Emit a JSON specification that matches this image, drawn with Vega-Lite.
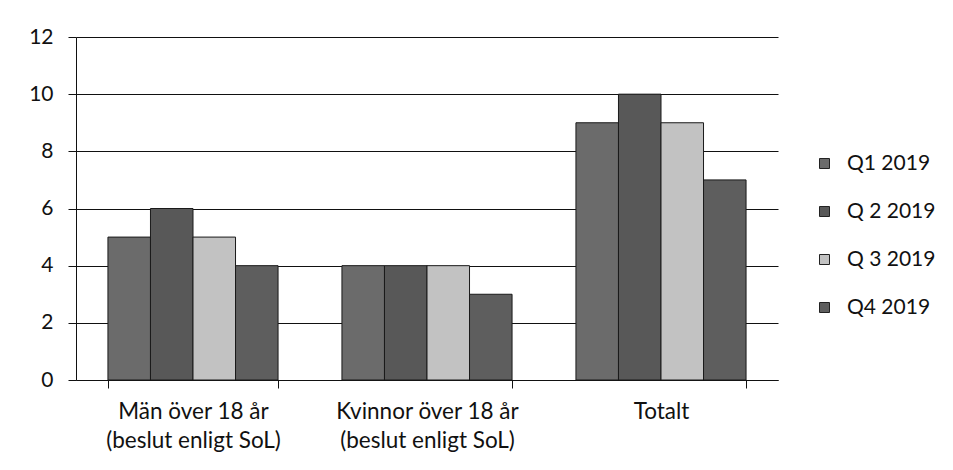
{
  "$schema": "https://vega.github.io/schema/vega-lite/v6.json",
  "width": 702,
  "height": 343,
  "autosize": "none",
  "padding": {"left": 76, "top": 37, "right": 175, "bottom": 90},
  "background": "white",
  "data": {
    "values": [
      {"grupp": "Män över 18 år|(beslut enligt SoL)", "kvartal": "Q1 2019", "antal": 5},
      {"grupp": "Män över 18 år|(beslut enligt SoL)", "kvartal": "Q 2 2019", "antal": 6},
      {"grupp": "Män över 18 år|(beslut enligt SoL)", "kvartal": "Q 3 2019", "antal": 5},
      {"grupp": "Män över 18 år|(beslut enligt SoL)", "kvartal": "Q4 2019", "antal": 4},
      {"grupp": "Kvinnor över 18 år|(beslut enligt SoL)", "kvartal": "Q1 2019", "antal": 4},
      {"grupp": "Kvinnor över 18 år|(beslut enligt SoL)", "kvartal": "Q 2 2019", "antal": 4},
      {"grupp": "Kvinnor över 18 år|(beslut enligt SoL)", "kvartal": "Q 3 2019", "antal": 4},
      {"grupp": "Kvinnor över 18 år|(beslut enligt SoL)", "kvartal": "Q4 2019", "antal": 3},
      {"grupp": "Totalt", "kvartal": "Q1 2019", "antal": 9},
      {"grupp": "Totalt", "kvartal": "Q 2 2019", "antal": 10},
      {"grupp": "Totalt", "kvartal": "Q 3 2019", "antal": 9},
      {"grupp": "Totalt", "kvartal": "Q4 2019", "antal": 7}
    ]
  },
  "mark": {"type": "bar", "stroke": "#1a1a1a", "strokeWidth": 1},
  "encoding": {
    "x": {
      "field": "grupp",
      "type": "nominal",
      "sort": null,
      "scale": {"paddingInner": 0.273, "paddingOuter": 0.1365},
      "axis": {
        "title": null,
        "labelAngle": 0,
        "labelExpr": "split(datum.label, '|')",
        "labelFont": "Lato",
        "labelFontSize": 22.5,
        "labelColor": "#111",
        "labelLineHeight": 29,
        "labelPadding": 12,
        "labelLimit": 0,
        "labelOverlap": false,
        "tickBand": "extent",
        "tickSize": 8,
        "tickColor": "#111",
        "domainColor": "#111",
        "grid": false
      }
    },
    "xOffset": {"field": "kvartal", "type": "nominal", "sort": ["Q1 2019", "Q 2 2019", "Q 3 2019", "Q4 2019"], "scale": {"paddingInner": 0, "paddingOuter": 0}},
    "y": {
      "field": "antal",
      "type": "quantitative",
      "scale": {"domain": [0, 12]},
      "axis": {
        "title": null,
        "values": [0, 2, 4, 6, 8, 10, 12],
        "labelFont": "Lato",
        "labelFontSize": 21,
        "labelColor": "#111",
        "labelPadding": 15,
        "tickSize": 8,
        "tickColor": "#111",
        "domainColor": "#111",
        "grid": true,
        "gridColor": "#111",
        "gridOpacity": 1
      }
    },
    "color": {
      "field": "kvartal",
      "type": "nominal",
      "sort": ["Q1 2019", "Q 2 2019", "Q 3 2019", "Q4 2019"],
      "scale": {"domain": ["Q1 2019", "Q 2 2019", "Q 3 2019", "Q4 2019"], "range": ["#6b6b6b", "#585858", "#c2c2c2", "#5e5e5e"]},
      "legend": {
        "title": null,
        "orient": "none",
        "legendX": 738,
        "legendY": 116,
        "symbolType": "square",
        "symbolSize": 100,
        "symbolStrokeColor": "#222",
        "symbolStrokeWidth": 1,
        "labelFont": "Lato",
        "labelFontSize": 21,
        "labelColor": "#111",
        "labelOffset": 12,
        "rowPadding": 26
      }
    }
  },
  "config": {"view": {"stroke": null}}
}
